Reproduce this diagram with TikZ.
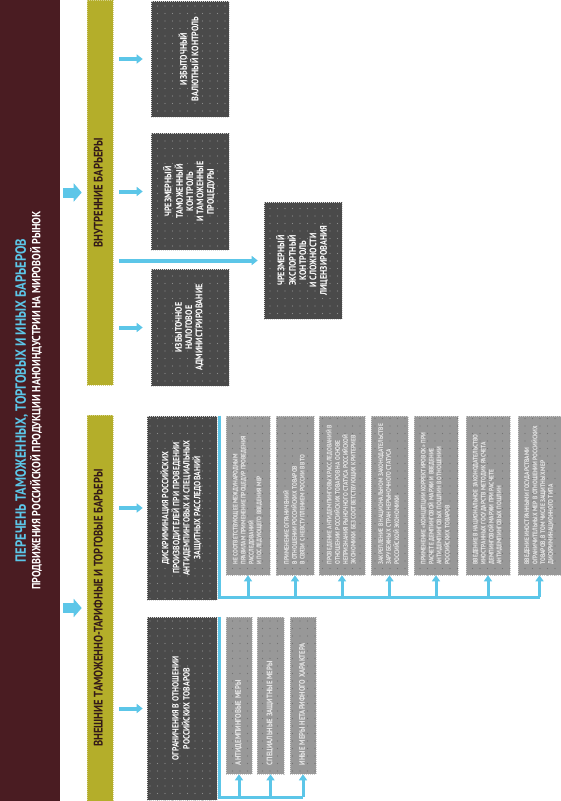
\documentclass[tikz,border=0pt]{standalone}
\usepackage{fontspec}
\usepackage{graphicx}
\usetikzlibrary{arrows.meta,patterns,calc}
\newfontfamily\cond[FakeStretch=0.85]{PT Sans}
\definecolor{maroonbar}{RGB}{74,28,34}
\definecolor{olivebar}{RGB}{180,174,42}
\definecolor{darkfill}{RGB}{74,74,74}
\definecolor{lightfill}{RGB}{152,152,152}
\definecolor{sky}{RGB}{92,198,232}
\definecolor{olivetext}{RGB}{50,25,25}
\definecolor{smalltext}{RGB}{232,232,232}
\pgfdeclarepatternformonly{sparsedots}{\pgfqpoint{-1pt}{-1pt}}{\pgfqpoint{1pt}{1pt}}{\pgfqpoint{7.5pt}{7.5pt}}{\pgfpathcircle{\pgfqpoint{0pt}{0pt}}{0.55pt}\pgfusepath{fill}}
\newcommand{\rtext}[1]{\rotatebox{90}{\begin{tabular}{@{}c@{}}#1\end{tabular}}}
\newcommand{\rltext}[2]{\rotatebox{90}{\makebox[#1][l]{\begin{tabular}{@{}l@{}}#2\end{tabular}}}}
\begin{document}
\begin{tikzpicture}[x=1pt,y=-1pt,
  titlebar/.style={rectangle, fill=maroonbar, inner sep=0pt, font=\cond\bfseries\fontsize{11.8}{14}\selectfont},
  olivecol/.style={rectangle, fill=olivebar, draw=olivebar!55!white, dash pattern=on 1pt off 1pt, line width=0.6pt, inner sep=0pt, minimum width=26pt, text=olivetext, font=\cond\bfseries\fontsize{12.4}{13}\selectfont},
  darkrect/.style={rectangle, fill=darkfill, draw=white!85!black, dash pattern=on 1pt off 1pt, line width=0.6pt, inner sep=0pt, text=white, font=\cond\bfseries\fontsize{9.5}{10.3}\selectfont, postaction={pattern=sparsedots, pattern color=gray!90}},
  lightrect/.style={rectangle, fill=lightfill, draw=white!80!black, dash pattern=on 1pt off 1pt, line width=0.6pt, inner sep=0pt, text=smalltext, font=\cond\bfseries\fontsize{6.6}{7.8}\selectfont, postaction={pattern=sparsedots, pattern color=black!55}},
  bigarrow/.style={draw=sky, line width=10pt, -{Triangle[width=18pt,length=8pt]}, shorten <=3pt, shorten >=5pt},
  sarrow/.style={draw=sky, line width=4pt, -{Triangle[width=9pt,length=6pt]}},
  uparrow/.style={draw=sky, line width=3pt, -{Triangle[width=8pt,length=6pt]}},
  bline/.style={draw=sky, line width=3pt}]
\useasboundingbox (0,0) rectangle (561,801);
\fill[white] (0,0) rectangle (561,801);

% title bar
\node[titlebar, minimum width=60pt, minimum height=801pt] (title) at (30,400.5)
  {\rtext{\color{sky}\fontsize{14.8}{14}\selectfont ПЕРЕЧЕНЬ ТАМОЖЕННЫХ, ТОРГОВЫХ И ИНЫХ БАРЬЕРОВ\\
   \color{white}ПРОДВИЖЕНИЯ РОССИЙСКОЙ ПРОДУКЦИИ НАНОИНДУСТРИИ НА МИРОВОЙ РЫНОК}};
\draw[white, dash pattern=on 1pt off 1pt, line width=0.8pt] (title.north east) -- (title.south east);

% olive columns
\node[olivecol, minimum height=385pt] (inner) at (100,192.5) {\rtext{ВНУТРЕННИЕ БАРЬЕРЫ}};
\node[olivecol, minimum height=386pt] (outer) at (100,608) {\rtext{ВНЕШНИЕ ТАМОЖЕННО-ТАРИФНЫЕ И ТОРГОВЫЕ БАРЬЕРЫ}};

\draw[bigarrow] (title.east |- inner.west) -- (inner.west);
\draw[bigarrow] (title.east |- outer.west) -- (outer.west);

% internal barriers
\node[darkrect, minimum width=78pt, minimum height=116pt] (b1) at (190,59) {\rtext{ИЗБЫТОЧНЫЙ\\ВАЛЮТНЫЙ КОНТРОЛЬ}};
\node[darkrect, minimum width=78pt, minimum height=117pt] (b2) at (190,191.5) {\rtext{ЧРЕЗМЕРНЫЙ\\ТАМОЖЕННЫЙ\\КОНТРОЛЬ\\И ТАМОЖЕННЫЕ\\ПРОЦЕДУРЫ}};
\node[darkrect, minimum width=78pt, minimum height=117pt] (b3) at (190,327.5) {\rtext{ИЗБЫТОЧНОЕ\\НАЛОГОВОЕ\\АДМИНИСТРИРОВАНИЕ}};
\node[darkrect, minimum width=78pt, minimum height=117pt] (exp) at (303,260.5) {\rtext{ЧРЕЗМЕРНЫЙ\\ЭКСПОРТНЫЙ\\КОНТРОЛЬ\\И СЛОЖНОСТИ\\ЛИЦЕНЗИРОВАНИЯ}};

\draw[sarrow, shorten <=6pt, shorten >=8pt] (inner.east |- b1.west) -- (b1.west);
\draw[sarrow, shorten <=6pt, shorten >=8pt] (inner.east |- b2.west) -- (b2.west);
\draw[sarrow, shorten <=6pt, shorten >=8pt] (inner.east |- b3.west) -- (b3.west);
\draw[sarrow, shorten <=6pt, shorten >=6pt] (inner.east |- exp.west) -- (exp.west);

% external barriers
\node[darkrect, font=\cond\bfseries\fontsize{9}{10.2}\selectfont, minimum width=70pt, minimum height=184pt] (discr) at (182,508)
  {\rtext{ДИСКРИМИНАЦИЯ РОССИЙСКИХ\\ПРОИЗВОДИТЕЛЕЙ ПРИ ПРОВЕДЕНИИ\\АНТИДЕМПИНГОВЫХ И СПЕЦИАЛЬНЫХ\\ЗАЩИТНЫХ РАССЛЕДОВАНИЙ}};
\node[darkrect, font=\cond\bfseries\fontsize{9}{10.2}\selectfont, minimum width=70pt, minimum height=183pt] (restr) at (182,708.5)
  {\rtext{ОГРАНИЧЕНИЯ В ОТНОШЕНИИ\\РОССИЙСКИХ ТОВАРОВ}};

\draw[sarrow, shorten <=6pt, shorten >=4pt] (outer.east |- discr.west) -- (discr.west);
\draw[sarrow, shorten <=6pt, shorten >=4pt] (outer.east |- restr.west) -- (restr.west);

% grey boxes of discrimination
\node[lightrect, minimum width=44pt, minimum height=159pt] (g1) at (248,495.5)
  {\rltext{138pt}{НЕ СООТВЕТСТВУЮЩЕЕ МЕЖДУНАРОДНЫМ\\ПРАВИЛАМ ПРИМЕНЕНИЕ ПРОЦЕДУР ПРОВЕДЕНИЯ\\РАССЛЕДОВАНИЙ\\И ПОСЛЕДУЮЩЕГО ВВЕДЕНИЯ МЕР}};
\node[lightrect, minimum width=38pt, minimum height=159pt] (g2) at (295,495.5)
  {\rltext{138pt}{ПРИМЕНЕНИЕ ОГРАНИЧЕНИЙ\\В ОТНОШЕНИИ РОССИЙСКИХ ТОВАРОВ\\В СВЯЗИ С НЕВСТУПЛЕНИЕМ РОССИИ В ВТО}};
\node[lightrect, minimum width=46pt, minimum height=159pt] (g3) at (342,495.5)
  {\rltext{138pt}{ПРОВЕДЕНИЕ АНТИДЕМПИНГОВЫХ РАССЛЕДОВАНИЙ В\\ОТНОШЕНИИ РОССИЙСКИХ ТОВАРОВ НА ОСНОВЕ\\НЕПРИЗНАНИЯ РЫНОЧНОГО СТАТУСА РОССИЙСКОЙ\\ЭКОНОМИКИ БЕЗ СООТВЕТСТВУЮЩИХ КРИТЕРИЕВ}};
\node[lightrect, minimum width=37pt, minimum height=159pt] (g4) at (389.5,495.5)
  {\rltext{138pt}{ЗАКРЕПЛЕНИЕ В НАЦИОНАЛЬНОМ ЗАКОНОДАТЕЛЬСТВЕ\\ЗАРУБЕЖНЫХ СТРАН НЕРЫНОЧНОГО СТАТУСА\\РОССИЙСКОЙ ЭКОНОМИКИ}};
\node[lightrect, minimum width=44pt, minimum height=159pt] (g5) at (436,495.5)
  {\rltext{138pt}{ПРИМЕНЕНИЕ «КОНЦЕПЦИИ КОРРЕКТИРОВОК» ПРИ\\РАСЧЕТЕ ДЕМПИНГОВОЙ МАРЖИ И ВВЕДЕНИЕ\\АНТИДЕМПИНГОВЫХ ПОШЛИН В ОТНОШЕНИИ\\РОССИЙСКИХ ТОВАРОВ}};
\node[lightrect, minimum width=44pt, minimum height=159pt] (g6) at (488,495.5)
  {\rltext{138pt}{ВВЕДЕНИЕ В НАЦИОНАЛЬНОЕ ЗАКОНОДАТЕЛЬСТВО\\ИНОСТРАННЫХ ГОСУДАРСТВ МЕТОДИК РАСЧЕТА\\ДЕМПИНГОВОЙ МАРЖИ ПРИ РАСЧЕТЕ\\АНТИДЕМПИНГОВЫХ ПОШЛИН}};
\node[lightrect, minimum width=43pt, minimum height=159pt] (g7) at (539.5,495.5)
  {\rltext{138pt}{ВВЕДЕНИЕ ИНОСТРАННЫМИ ГОСУДАРСТВАМИ\\ОГРАНИЧИТЕЛЬНЫХ МЕР В ОТНОШЕНИИ РОССИЙСКИХ\\ТОВАРОВ, В ТОМ ЧИСЛЕ ЗАЩИТНЫХ МЕР\\ДИСКРИМИНАЦИОННОГО ТИПА}};

\coordinate (dl) at ([xshift=2pt,yshift=3pt]discr.south east);
\draw[bline] ([xshift=2pt]discr.north east) -- (dl) -- (dl -| g7.south);
\foreach \g in {g1,g2,g3,g4,g5,g6,g7}{\draw[uparrow] (dl -| \g.south) -- (\g.south);}

% grey boxes of restrictions
\node[lightrect, font=\cond\bfseries\fontsize{8}{9}\selectfont, minimum width=26pt, minimum height=157pt] (h1) at (239,695.5)
  {\rltext{139pt}{АНТИДЕМПИНГОВЫЕ МЕРЫ}};
\node[lightrect, font=\cond\bfseries\fontsize{8}{9}\selectfont, minimum width=27pt, minimum height=157pt] (h2) at (270.5,695.5)
  {\rltext{139pt}{СПЕЦИАЛЬНЫЕ ЗАЩИТНЫЕ МЕРЫ}};
\node[lightrect, font=\cond\bfseries\fontsize{8}{9}\selectfont, minimum width=26pt, minimum height=157pt] (h3) at (303,695.5)
  {\rltext{139pt}{ИНЫЕ МЕРЫ НЕТАРИФНОГО ХАРАКТЕРА}};

\coordinate (rl) at ([xshift=2pt,yshift=3pt]restr.south east);
\draw[bline] ([xshift=2pt]restr.north east) -- (rl) -- (rl -| h3.south);
\foreach \h in {h1,h2,h3}{\draw[uparrow] (rl -| \h.south) -- (\h.south);}
\end{tikzpicture}
\end{document}
